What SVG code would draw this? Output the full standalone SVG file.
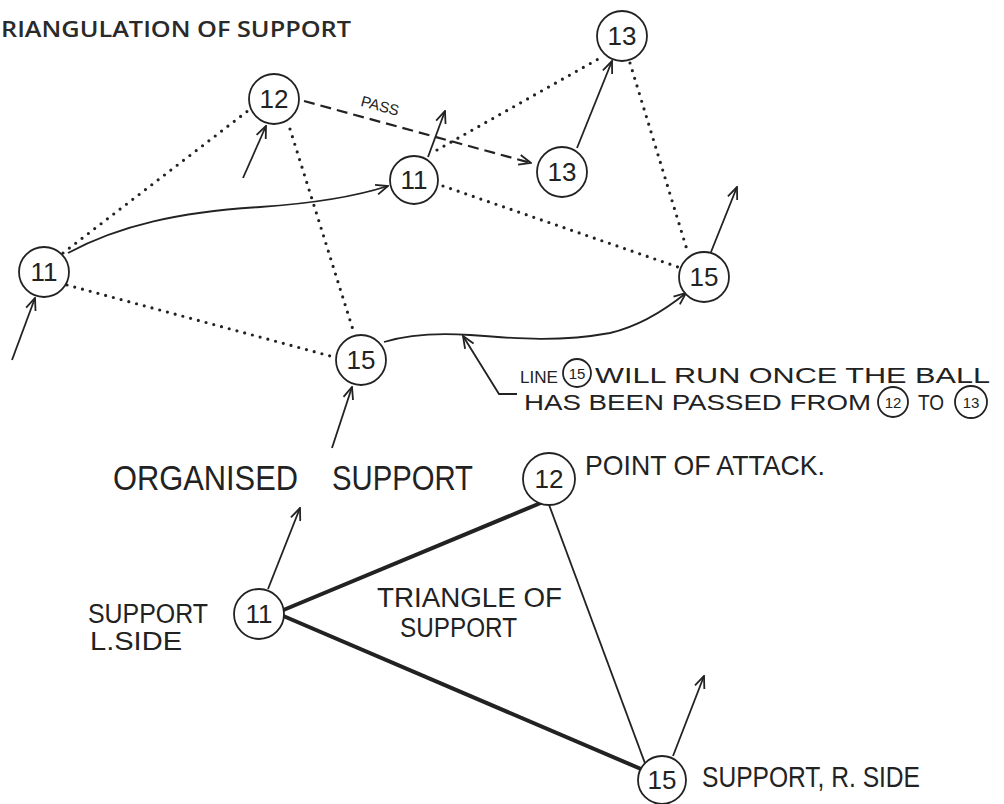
<svg xmlns="http://www.w3.org/2000/svg" width="1004" height="804" viewBox="0 0 1004 804">
<defs>
<style>
.node circle{fill:#fff;stroke:#222;stroke-width:1.8}
.num{font-family:"Liberation Sans",Arial,sans-serif;font-size:26px;fill:#222;text-anchor:middle}
.small{font-size:15px}
.dot{fill:none;stroke:#222;stroke-width:3.2;stroke-linecap:round;stroke-dasharray:0 8}
.solid{fill:none;stroke:#222;stroke-width:1.8}
.thick{fill:none;stroke:#222;stroke-width:4}
.dash{fill:none;stroke:#222;stroke-width:2.2;stroke-dasharray:11 6}
.hand{font-family:"Liberation Sans",Arial,sans-serif;fill:#222}
.title{font-family:"Open Sans","Liberation Sans",sans-serif;font-size:21px;font-weight:600;fill:#2a2a2a}
</style>
<marker id="arr" viewBox="0 0 14 12" refX="13" refY="6" markerWidth="14" markerHeight="12" markerUnits="userSpaceOnUse" orient="auto">
<path d="M1,1 L13,6 L1,11" fill="none" stroke="#222" stroke-width="1.8" stroke-dasharray="none"/>
</marker>
</defs>
<rect width="1004" height="804" fill="#fff"/>
<text class="title" x="1" y="37" textLength="350" lengthAdjust="spacingAndGlyphs">RIANGULATION OF SUPPORT</text>

<g id="connectors">
<line class="dot" x1="63" y1="253" x2="249" y2="110"/>
<line class="dot" x1="67" y1="285" x2="334" y2="357"/>
<line class="dot" x1="290" y1="129" x2="354" y2="333"/>
<line class="dot" x1="437" y1="150" x2="600" y2="58"/>
<line class="dot" x1="443" y1="186" x2="678" y2="267"/>
<line class="dot" x1="630" y1="63" x2="688" y2="253"/>
<path class="solid" d="M68 253 C120 225 180 212 260 207 C320 203 360 195 388 186" marker-end="url(#arr)"/>
<line class="solid" x1="12" y1="360" x2="35" y2="298" marker-end="url(#arr)"/>
<line class="solid" x1="243" y1="178" x2="266" y2="126" marker-end="url(#arr)"/>
<line class="dash" x1="304" y1="101" x2="531" y2="163" marker-end="url(#arr)"/>
<line class="solid" x1="428" y1="157" x2="445" y2="111" marker-end="url(#arr)"/>
<line class="solid" x1="577" y1="148" x2="612" y2="61" marker-end="url(#arr)"/>
<line class="solid" x1="711" y1="252" x2="737" y2="187" marker-end="url(#arr)"/>
<path class="solid" d="M384 342 C410 334 440 333 470 335 C520 339 560 342 610 333 C640 326 665 310 686 293" marker-end="url(#arr)"/>
<line class="solid" x1="332" y1="448" x2="352" y2="387" marker-end="url(#arr)"/>
<polyline class="solid" points="517,394 499,394 463,336" marker-end="url(#arr)"/>
<line class="solid" x1="268" y1="589" x2="300" y2="508" marker-end="url(#arr)"/>
<line class="thick" x1="281" y1="611" x2="543" y2="502"/>
<line class="thick" x1="281" y1="615" x2="648" y2="772"/>
<line class="solid" x1="548" y1="502" x2="646" y2="766"/>
<line class="solid" x1="673" y1="756" x2="704" y2="676" marker-end="url(#arr)"/>
</g>

<text class="hand" x="380" y="111" font-size="15" text-anchor="middle" transform="rotate(15 380 106)">PASS</text>

<g id="n11a" class="node"><circle cx="44" cy="272" r="25"/><text class="num" x="44" y="281">11</text></g>
<g id="n12a" class="node"><circle cx="274" cy="99" r="25"/><text class="num" x="274" y="108">12</text></g>
<g id="n11b" class="node"><circle cx="414" cy="180" r="24"/><text class="num" x="414" y="189">11</text></g>
<g id="n13b" class="node"><circle cx="562" cy="172" r="25"/><text class="num" x="562" y="181">13</text></g>
<g id="n13a" class="node"><circle cx="622" cy="36" r="25"/><text class="num" x="622" y="45">13</text></g>
<g id="n15a" class="node"><circle cx="704" cy="277" r="25"/><text class="num" x="704" y="286">15</text></g>
<g id="n15b" class="node"><circle cx="361" cy="360" r="25"/><text class="num" x="361" y="369">15</text></g>

<g id="note">
<text class="hand" x="520" y="383" font-size="17" textLength="38" lengthAdjust="spacingAndGlyphs">LINE</text>
<circle cx="577" cy="373" r="14" fill="none" stroke="#222" stroke-width="1.8"/>
<text class="num small" x="577" y="379">15</text>
<text class="hand" x="595" y="383" font-size="22" textLength="395" lengthAdjust="spacingAndGlyphs">WILL RUN   ONCE   THE   BALL</text>
<text class="hand" x="524" y="410" font-size="22" textLength="347" lengthAdjust="spacingAndGlyphs">HAS  BEEN  PASSED  FROM</text>
<circle cx="893" cy="402" r="15" fill="none" stroke="#222" stroke-width="1.8"/>
<text class="num small" x="893" y="408">12</text>
<text class="hand" x="918" y="410" font-size="22" textLength="26" lengthAdjust="spacingAndGlyphs">TO</text>
<circle cx="971" cy="402" r="16" fill="none" stroke="#222" stroke-width="1.8"/>
<text class="num small" x="971" y="408">13</text>
</g>

<text class="hand" x="113" y="490" font-size="35" textLength="185" lengthAdjust="spacingAndGlyphs">ORGANISED</text>
<text class="hand" x="332" y="490" font-size="35" textLength="141" lengthAdjust="spacingAndGlyphs">SUPPORT</text>
<text class="hand" x="585" y="475" font-size="28" textLength="240" lengthAdjust="spacingAndGlyphs">POINT OF ATTACK.</text>
<text class="hand" x="88" y="623" font-size="27" textLength="120" lengthAdjust="spacingAndGlyphs">SUPPORT</text>
<text class="hand" x="90" y="650" font-size="25" textLength="92" lengthAdjust="spacingAndGlyphs">L.SIDE</text>
<text class="hand" x="377" y="607" font-size="27" textLength="185" lengthAdjust="spacingAndGlyphs">TRIANGLE OF</text>
<text class="hand" x="400" y="637" font-size="27" textLength="117" lengthAdjust="spacingAndGlyphs">SUPPORT</text>
<text class="hand" x="702" y="787" font-size="30" textLength="218" lengthAdjust="spacingAndGlyphs">SUPPORT, R. SIDE</text>

<g id="n12c" class="node"><circle cx="549" cy="479" r="26"/><text class="num" x="549" y="488">12</text></g>
<g id="n11c" class="node"><circle cx="259" cy="614" r="25"/><text class="num" x="259" y="623">11</text></g>
<g id="n15c" class="node"><circle cx="662" cy="780" r="24"/><text class="num" x="662" y="789">15</text></g>
</svg>
